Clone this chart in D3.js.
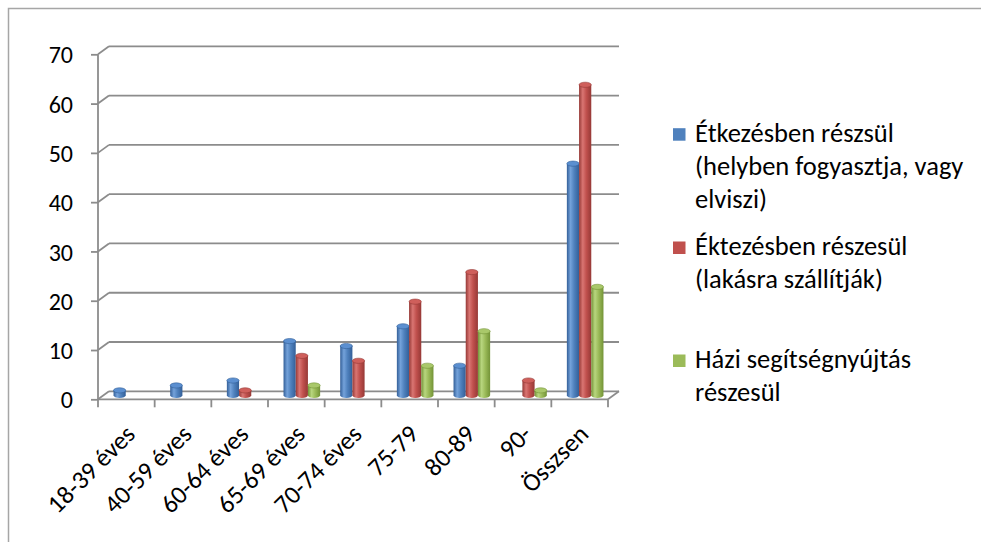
<!DOCTYPE html>
<html><head><meta charset="utf-8">
<script src="https://cdn.jsdelivr.net/npm/d3@7"></script>
<style>
html,body{margin:0;padding:0;background:#fff;}
svg{display:block;}
text{font-family:Carlito,Lato,"Liberation Sans",sans-serif;fill:#000;}
</style></head>
<body>
<svg id="chart" width="981" height="542"></svg>
<script>
const categories = ["18-39 éves","40-59 éves","60-64 éves","65-69 éves","70-74 éves","75-79","80-89","90-","Összsen"];
const seriesNames = [
  ["Étkezésben részsül","(helyben fogyasztja, vagy","elviszi)"],
  ["Éktezésben részesül","(lakásra szállítják)"],
  ["Házi segítségnyújtás","részesül"]
];
const blueValues  = [1,2,3,11,10,14,6,0,47];
const redValues   = [0,0,1,8,7,19,25,3,63];
const greenValues = [0,0,0,2,0,6,13,1,22];
const yTicks = [0,10,20,30,40,50,60,70];

const colors = [
  {base:"#4F81BD", dark:"#335f98", light:"#74a2da", top:"#5b8fd0"},
  {base:"#C0504D", dark:"#963936", light:"#d97572", top:"#cf5f5b"},
  {base:"#9BBB59", dark:"#739337", light:"#b8d67f", top:"#a9c86a"}
];
const series = [blueValues, redValues, greenValues];

const svg = d3.select("#chart");
const defs = svg.append("defs");
colors.forEach((c,i)=>{
  const g = defs.append("linearGradient").attr("id","cyl"+i).attr("x1","0").attr("x2","1").attr("y1","0").attr("y2","0");
  g.append("stop").attr("offset","0%").attr("stop-color",c.dark);
  g.append("stop").attr("offset","30%").attr("stop-color",c.light);
  g.append("stop").attr("offset","60%").attr("stop-color",c.base);
  g.append("stop").attr("offset","100%").attr("stop-color",c.dark);
});

// outer border (top and left visible)
svg.append("path").attr("d","M8.5,542 L8.5,8.5 L981,8.5").attr("fill","none").attr("stroke","#a6a6a6").attr("stroke-width",1.5);

const x0 = 98, x1 = 608;
const depthX = 11, depthY = -8;
const y = d3.scaleLinear().domain([0,70]).range([399.3,54.3]);
const x = d3.scaleBand().domain(categories).range([x0,x1]).paddingInner(0).paddingOuter(0);
const grid = "#8c8c8c";

const g = svg.append("g");
// back wall gridlines
yTicks.forEach(v=>{
  const yf = y(v), yb = y(v)+depthY;
  g.append("line").attr("x1",x0+depthX).attr("x2",x1+depthX).attr("y1",yb).attr("y2",yb).attr("stroke",grid).attr("stroke-width",1.8);
  g.append("line").attr("x1",x0).attr("x2",x0+depthX).attr("y1",yf).attr("y2",yb).attr("stroke",grid).attr("stroke-width",1.8);
});
// y axis (front)
const yAxis = d3.axisLeft(y).tickValues(yTicks).tickSize(7).tickPadding(18).tickFormat(d3.format("d"));
const ya = g.append("g").attr("transform",`translate(${x0},0)`).call(yAxis);
ya.select(".domain").attr("stroke",grid).attr("stroke-width",1.8).attr("d",`M0,${y(0)}V${y(70)}`);
ya.selectAll(".tick line").attr("stroke",grid).attr("stroke-width",1.8);
ya.selectAll(".tick text").style("font-size","24px").attr("dy","0.36em").attr("fill","#000");

// floor front & right edges
g.append("line").attr("x1",x0).attr("x2",x1).attr("y1",y(0)).attr("y2",y(0)).attr("stroke",grid).attr("stroke-width",1.8);
g.append("line").attr("x1",x1).attr("x2",x1+depthX).attr("y1",y(0)).attr("y2",y(0)+depthY).attr("stroke",grid).attr("stroke-width",1.8);
// category ticks
const tickPos = categories.map(c=>x(c)).concat([x1]);
tickPos.forEach(p=>{
  g.append("line").attr("x1",p).attr("x2",p).attr("y1",y(0)).attr("y2",y(0)+8).attr("stroke",grid).attr("stroke-width",1.8);
});

// bars (cylinders)
const barW = 12.2, ry = 2.6;
const inner = d3.scaleBand().domain([0,1,2]).range([0,barW*3]);
const offX = depthX/2, offY = depthY/2;
series.forEach((vals,si)=>{
  vals.forEach((v,ci)=>{
    if(!v) return;
    const cx = x(categories[ci]) + x.bandwidth()/2 + offX - barW*1.5 + inner(si);
    const base = y(0) + offY, top = y(v) + offY;
    const bg = g.append("g");
    bg.append("path")
      .attr("d",`M${cx},${top} L${cx},${base} A${barW/2},${ry} 0 0 0 ${cx+barW},${base} L${cx+barW},${top} Z`)
      .attr("fill",`url(#cyl${si})`);
    bg.append("ellipse").attr("cx",cx+barW/2).attr("cy",top).attr("rx",barW/2).attr("ry",ry)
      .attr("fill",colors[si].top).attr("stroke",colors[si].dark).attr("stroke-width",0.6);
  });
});

// x labels
categories.forEach(c=>{
  const cx = x(c)+x.bandwidth()/2;
  g.append("text").attr("transform",`translate(${cx+4},${y(0)+30}) rotate(-45)`)
    .attr("text-anchor","end").attr("dy","0.35em").style("font-size","25.5px").text(c);
});

// legend
const legendY = [[141.7,175,208.3],[255,288],[368,400.5]];
seriesNames.forEach((lines,si)=>{
  svg.append("rect").attr("x",673).attr("y",legendY[si][0]-13.5).attr("width",12.5).attr("height",12.5).attr("fill",colors[si].base);
  lines.forEach((t,li)=>{
    svg.append("text").attr("x",695).attr("y",legendY[si][li]).style("font-size","26.5px").text(t);
  });
});
</script>
</body></html>
